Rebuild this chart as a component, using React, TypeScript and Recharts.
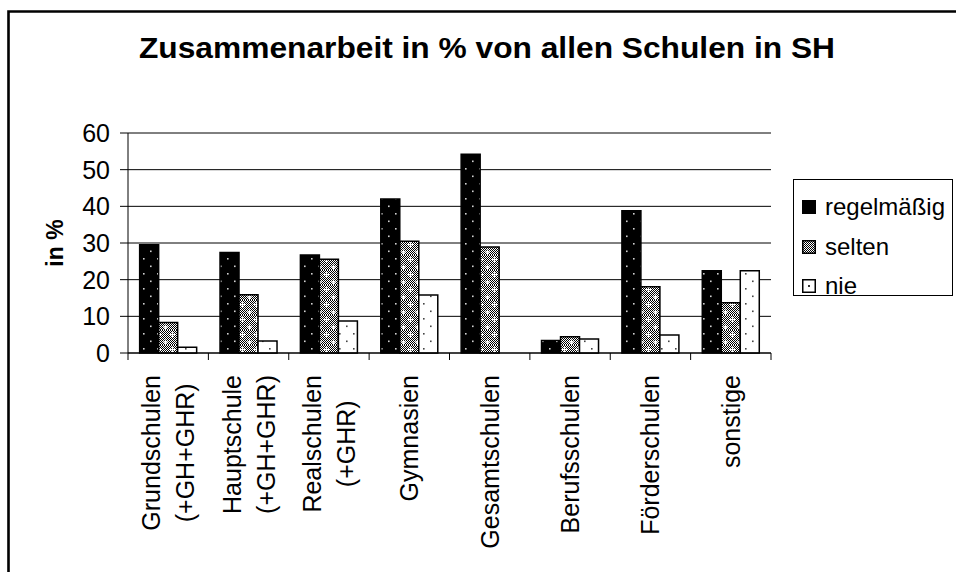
import { BarChart, Bar, XAxis, YAxis, CartesianGrid } from 'recharts';

const categories = [
  'Grundschulen\n(+GH+GHR)',
  'Hauptschule\n(+GH+GHR)',
  'Realschulen\n(+GHR)',
  'Gymnasien',
  'Gesamtschulen',
  'Berufsschulen',
  'Förderschulen',
  'sonstige',
];
const regelmaessig = [29.5, 27.4, 26.7, 42.0, 54.2, 3.4, 38.8, 22.4];
const selten = [8.3, 15.9, 25.6, 30.5, 28.9, 4.4, 18.1, 13.7];
const nie = [1.6, 3.3, 8.7, 15.8, 0, 3.8, 4.9, 22.4];
const seriesNames = ['regelmäßig', 'selten', 'nie'];
const yTicks = [0, 10, 20, 30, 40, 50, 60];

const title = 'Zusammenarbeit in % von allen Schulen in SH';
const yLabel = 'in %';

const data = categories.map((name, i) => ({
  name,
  reg: regelmaessig[i],
  sel: selten[i],
  nie: nie[i],
}));

const W = 956;
const H = 572;
const LEFT = 128;
const RIGHT = 185;
const TOP = 133;
const BOTTOM = 219;
const band = (W - LEFT - RIGHT) / categories.length;

const FONT = 'Arial, "Liberation Sans", sans-serif';
const LABEL_SIZE = 25;

let ctx: CanvasRenderingContext2D | null = null;
function textWidth(s: string) {
  if (!ctx) ctx = document.createElement('canvas').getContext('2d');
  if (!ctx) return s.length * LABEL_SIZE * 0.5;
  ctx.font = `${LABEL_SIZE}px "Liberation Sans"`;
  return ctx.measureText(s).width;
}

const XTick = (props: any) => {
  const { x, y, payload, index } = props;
  const lines = String(payload.value).split('\n');
  const longest = Math.max(...lines.map(textWidth));
  const cy = y + 22 + longest / 2;
  const gap = 34;
  const first = x + 9 - ((lines.length - 1) * gap) / 2;
  return (
    <g>
      <line x1={x - band / 2} x2={x - band / 2} y1={y} y2={y + 7} stroke="#000" />
      {index === categories.length - 1 && (
        <line x1={x + band / 2} x2={x + band / 2} y1={y} y2={y + 7} stroke="#000" />
      )}
      {lines.map((l, i) => (
        <text
          key={i}
          transform={`translate(${first + i * gap},${cy}) rotate(-90)`}
          textAnchor="middle"
          fontSize={LABEL_SIZE}
          fontFamily={FONT}
          fill="#000"
        >
          {l}
        </text>
      ))}
    </g>
  );
};

const Swatch = ({ kind }: { kind: number }) => (
  <svg width={14} height={14} style={{ display: 'block' }}>
    <defs>
      <pattern id={`lchk${kind}`} width="2" height="2" patternUnits="userSpaceOnUse">
        <rect width="2" height="2" fill="#fff" />
        <rect width="1" height="1" fill="#000" />
        <rect x="1" y="1" width="1" height="1" fill="#000" />
      </pattern>
    </defs>
    <rect
      x={0.75}
      y={0.75}
      width={12.5}
      height={12.5}
      fill={kind === 0 ? '#000' : kind === 1 ? `url(#lchk${kind})` : '#fff'}
      stroke="#000"
      strokeWidth={1.5}
    />
    {kind === 2 && <rect x={6} y={6} width={2} height={2} fill="#333" />}
  </svg>
);

export default function App() {
  return (
    <div
      style={{
        position: 'absolute',
        left: 0,
        top: 0,
        width: W,
        height: H,
        background: '#fff',
        overflow: 'hidden',
        fontFamily: FONT,
      }}
    >
      <svg width={W} height={H} style={{ position: 'absolute', left: 0, top: 0 }}>
        <path d={`M8.5 ${H} V11.5 H${W}`} fill="none" stroke="#000" strokeWidth={2.6} />
        <text
          x={487}
          y={58}
          textAnchor="middle"
          fontSize={29}
          fontWeight="bold"
          fontFamily={FONT}
          textLength={696}
          lengthAdjust="spacingAndGlyphs"
        >
          {title}
        </text>
        <text
          transform="translate(63,243) rotate(-90)"
          textAnchor="middle"
          fontSize={23}
          fontWeight="bold"
          fontFamily={FONT}
        >
          {yLabel}
        </text>
      </svg>
      <div style={{ position: 'absolute', left: 0, top: 0 }}>
        <BarChart
          width={W}
          height={H}
          data={data}
          margin={{ top: TOP, right: RIGHT, left: 0, bottom: 0 }}
          barCategoryGap="14.5%"
          barGap={0}
        >
          <defs>
            <pattern id="pReg" width="14" height="15" patternUnits="userSpaceOnUse">
              <rect width="14" height="15" fill="#000" />
              <rect x="3" y="3" width="1.6" height="1.6" fill="#d0d0d0" />
              <rect x="10" y="10.5" width="1.6" height="1.6" fill="#d0d0d0" />
            </pattern>
            <pattern id="pChk" width="2" height="2" patternUnits="userSpaceOnUse">
              <rect width="2" height="2" fill="#fff" />
              <rect width="1" height="1" fill="#000" />
              <rect x="1" y="1" width="1" height="1" fill="#000" />
            </pattern>
            <pattern id="pSel" width="14" height="15" patternUnits="userSpaceOnUse">
              <rect width="14" height="15" fill="url(#pChk)" />
              <rect x="2" y="4" width="5" height="1.2" fill="#fff" />
              <rect x="3.9" y="2.1" width="1.2" height="5" fill="#fff" />
              <rect x="9" y="11.5" width="5" height="1.2" fill="#fff" />
              <rect x="10.9" y="9.6" width="1.2" height="5" fill="#fff" />
            </pattern>
            <pattern id="pNie" width="14" height="15" patternUnits="userSpaceOnUse">
              <rect width="14" height="15" fill="#fff" />
              <rect x="3" y="3" width="1.6" height="1.6" fill="#444" />
              <rect x="10" y="10.5" width="1.6" height="1.6" fill="#444" />
            </pattern>
          </defs>
          <CartesianGrid vertical={false} stroke="#000" strokeWidth={1} />
          <XAxis
            dataKey="name"
            height={BOTTOM}
            interval={0}
            tickLine={false}
            tickSize={0}
            tickMargin={0}
            axisLine={{ stroke: '#000' }}
            tick={<XTick />}
          />
          <YAxis
            width={LEFT}
            domain={[0, 60]}
            ticks={yTicks}
            tickSize={8}
            tickMargin={10}
            tickLine={{ stroke: '#000' }}
            axisLine={{ stroke: '#000' }}
            tick={{ fill: '#000', fontSize: 25, fontFamily: FONT }}
          />
          <YAxis
            yAxisId="right"
            orientation="right"
            width={0}
            domain={[0, 60]}
            tick={false}
            tickLine={false}
            axisLine={{ stroke: '#000' }}
          />
          <Bar dataKey="reg" name={seriesNames[0]} fill="url(#pReg)" stroke="#000" strokeWidth={1.5} isAnimationActive={false} />
          <Bar dataKey="sel" name={seriesNames[1]} fill="url(#pSel)" stroke="#000" strokeWidth={1.5} isAnimationActive={false} />
          <Bar dataKey="nie" name={seriesNames[2]} fill="url(#pNie)" stroke="#000" strokeWidth={1.5} isAnimationActive={false} />
        </BarChart>
      </div>
      <div
        style={{
          position: 'absolute',
          left: 793,
          top: 179,
          width: 160,
          height: 117,
          border: '1.5px solid #000',
          boxSizing: 'border-box',
          paddingTop: 11,
        }}
      >
        {seriesNames.map((s, i) => (
          <div
            key={s}
            style={{ display: 'flex', alignItems: 'center', height: 40, marginTop: i === 0 ? -4 : -0.5 }}
          >
            <div style={{ marginLeft: 8, marginRight: 9 }}>
              <Swatch kind={i} />
            </div>
            <span style={{ fontSize: 24, color: '#000', whiteSpace: 'nowrap' }}>{s}</span>
          </div>
        ))}
      </div>
    </div>
  );
}
